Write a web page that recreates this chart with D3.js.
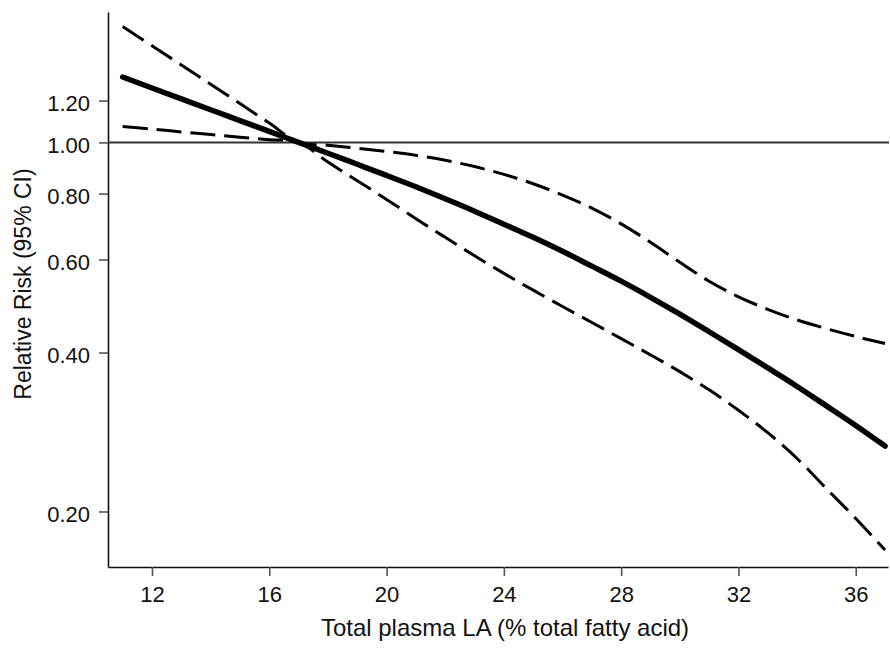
<!DOCTYPE html>
<html>
<head>
<meta charset="utf-8">
<script src="https://cdn.jsdelivr.net/npm/d3@7"></script>
<style>
  body { margin: 0; background: #fff; }
  svg { display: block; font-family: "Liberation Sans", Arial, sans-serif; }
</style>
</head>
<body>
<div id="chart"></div>
<script>
// total plasma LA (% total fatty acid)
var laValues = [11, 12, 13, 14, 15, 16, 17, 18, 19, 20, 21, 22, 23, 24, 25, 26, 27, 28, 29, 30, 31, 32, 33, 34, 35, 36, 37];
// relative risk estimate
var rrValues = [1.330, 1.268, 1.209, 1.153, 1.100, 1.049, 1.000, 0.954, 0.909, 0.866, 0.824, 0.782, 0.741, 0.700, 0.661, 0.622, 0.583, 0.546, 0.509, 0.473, 0.438, 0.405, 0.374, 0.345, 0.317, 0.291, 0.266];
// 95% CI
var upperValues = [1.657, 1.524, 1.402, 1.289, 1.185, 1.088, 1.000, 0.988, 0.975, 0.961, 0.945, 0.925, 0.900, 0.870, 0.835, 0.795, 0.751, 0.701, 0.647, 0.593, 0.546, 0.510, 0.483, 0.461, 0.444, 0.429, 0.416];
var lowerValues = [1.072, 1.060, 1.047, 1.035, 1.023, 1.012, 1.000, 0.918, 0.846, 0.780, 0.717, 0.661, 0.610, 0.565, 0.525, 0.489, 0.456, 0.425, 0.396, 0.368, 0.340, 0.311, 0.282, 0.252, 0.221, 0.194, 0.169];

var xTicks = [12, 16, 20, 24, 28, 32, 36];
var yTicks = [0.2, 0.4, 0.6, 0.8, 1.0, 1.2];
var refValue = 1.0;

function init() {
    var w = 890;
    var h = 648;

    var svg = d3.select("#chart")
        .append("svg")
        .attr("width", w)
        .attr("height", h);

    var xScale = d3.scaleLinear()
        .domain([10.5, 37.1])
        .range([108, 888]);
    var yScale = d3.scaleLog()
        .domain([0.157, 1.766])
        .range([567, 12]);

    var xAxis = d3.axisBottom(xScale)
        .tickValues(xTicks)
        .tickSize(9)
        .tickPadding(10)
        .tickSizeOuter(0);
    var yAxis = d3.axisLeft(yScale)
        .tickValues(yTicks)
        .tickFormat(d3.format(".2f"))
        .tickSize(9)
        .tickPadding(9)
        .tickSizeOuter(0);

    var gx = svg.append("g")
        .attr("transform", "translate(0,567)")
        .call(xAxis);
    var gy = svg.append("g")
        .attr("transform", "translate(108,0)")
        .call(yAxis);

    [gx, gy].forEach(function (g) {
        g.select(".domain").attr("stroke", "#111").attr("stroke-width", 1.6);
        g.selectAll(".tick line").attr("stroke", "#555").attr("stroke-width", 1.6);
        g.selectAll(".tick text")
            .attr("fill", "#111")
            .style("font-size", "22px")
            .style("font-family", "Liberation Sans, Arial, sans-serif");
    });
    gy.selectAll(".tick text").attr("dy", "0.47em");
    gx.selectAll(".tick text").attr("dy", "0.74em");

    // reference line at RR = 1
    svg.append("line")
        .attr("x1", 108)
        .attr("x2", 889)
        .attr("y1", yScale(refValue))
        .attr("y2", yScale(refValue))
        .attr("stroke", "#333")
        .attr("stroke-width", 2);

    var data = laValues.map(function (v, i) {
        return { x: v, rr: rrValues[i], lo: lowerValues[i], hi: upperValues[i] };
    });

    function lineFor(key) {
        return d3.line()
            .x(function (d) { return xScale(d.x); })
            .y(function (d) { return yScale(d[key]); })
            .curve(d3.curveCatmullRom.alpha(0.5));
    }

    ["hi", "lo"].forEach(function (key) {
        svg.append("path")
            .datum(data)
            .attr("d", lineFor(key))
            .attr("fill", "none")
            .attr("stroke", "#000")
            .attr("stroke-width", 3)
            .attr("stroke-dasharray", "25,9");
    });

    svg.append("path")
        .datum(data)
        .attr("d", lineFor("rr"))
        .attr("fill", "none")
        .attr("stroke", "#000")
        .attr("stroke-width", 5.5)
        .attr("stroke-linecap", "round");

    svg.append("text")
        .attr("x", 505)
        .attr("y", 636)
        .attr("text-anchor", "middle")
        .style("font-size", "24px")
        .attr("fill", "#111")
        .text("Total plasma LA (% total fatty acid)");

    svg.append("text")
        .attr("transform", "translate(31,284) rotate(-90)")
        .attr("text-anchor", "middle")
        .style("font-size", "23px")
        .attr("fill", "#111")
        .text("Relative Risk (95% CI)");
}

window.onload = init;
</script>
</body>
</html>
